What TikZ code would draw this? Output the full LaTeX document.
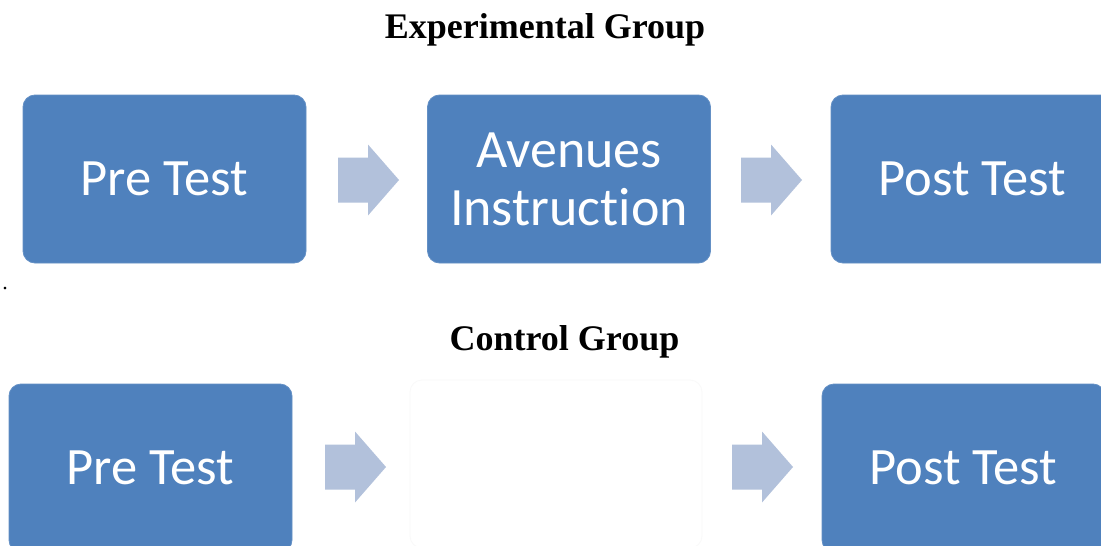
\documentclass[tikz,border=0pt]{standalone}
\usepackage{fontspec}
\setmainfont{Liberation Serif}
\newfontfamily\boxfont[Ligatures=NoCommon]{Carlito}
\definecolor{boxblue}{HTML}{4F81BD}
\definecolor{arrowblue}{HTML}{B2C1DB}
\begin{document}
\begin{tikzpicture}[x=1pt,y=-1pt,
  stepbox/.style={rounded corners=12pt, fill=boxblue, draw=boxblue!88!white, line width=0.8pt,
    minimum width=283pt, minimum height=168pt, inner sep=0pt, text=white,
    font=\boxfont\fontsize{52.5}{58}\selectfont, align=center},
  emptybox/.style={rounded corners=12pt, draw=black!2.5, line width=0.8pt,
    minimum width=292pt, minimum height=168pt, inner sep=0pt},
  grouptitle/.style={font=\bfseries\fontsize{36}{40}\selectfont, anchor=base, inner sep=0pt},
  barrow/.pic={\fill[arrowblue] (0,-22.5) -- (30,-22.5) -- (30,-35.5) -- (61,0) -- (30,35.5) -- (30,22.5) -- (0,22.5) -- cycle;}
]
\useasboundingbox (0,0) rectangle (1101,546);
\clip (0,0) rectangle (1101,546);
\fill[white] (0,0) rectangle (1101,546);

% titles
\node[grouptitle] (t1) at (545,38) {Experimental Group};
\node[grouptitle] (t2) at (564.5,350) {Control Group};
\node[inner sep=0pt, font=\fontsize{22}{24}\selectfont, anchor=base] (dot) at (5,289) {.};

% experimental row
\node[stepbox] (e1) at (164.5,179) {Pre Test};
\node[stepbox, font=\boxfont\fontsize{54}{58}\selectfont] (e2) at (569,179) {Avenues\\Instruction};
\node[stepbox] (e3) at (972.5,179) {Post Test};
\pic at (338,180) {barrow};
\pic at (741,180) {barrow};

% control row
\node[stepbox] (c1) at (150.5,468) {Pre Test};
\node[emptybox] (c2) at (556,464) {};
\node[stepbox] (c3) at (963.5,468) {Post Test};
\pic at (325,467) {barrow};
\pic at (732,467) {barrow};
\end{tikzpicture}
\end{document}
